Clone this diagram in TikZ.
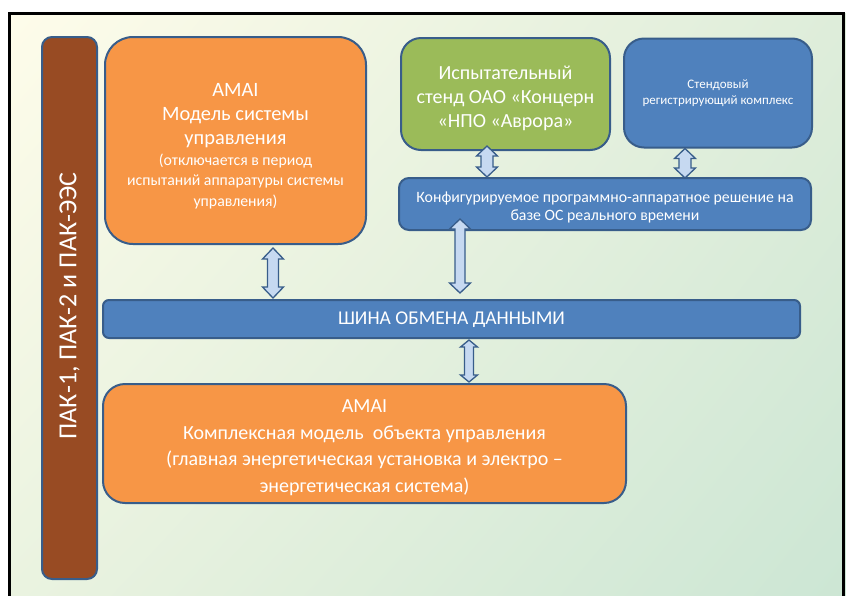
\documentclass[tikz,border=0pt]{standalone}
\usepackage{fontspec}
\setmainfont{Carlito}
\usetikzlibrary{calc,shadings}

\definecolor{bgTL}{RGB}{254,252,234}
\definecolor{bgTR}{RGB}{222,237,218}
\definecolor{bgBL}{RGB}{234,243,224}
\definecolor{bgBR}{RGB}{204,230,212}
\definecolor{edge}{RGB}{56,93,138}
\definecolor{orng}{RGB}{247,150,70}
\definecolor{olive}{RGB}{155,187,89}
\definecolor{steel}{RGB}{79,129,189}
\definecolor{rust}{RGB}{152,75,35}
\definecolor{pale}{RGB}{198,217,241}

\newcommand\fs[2]{\fontsize{#1}{#2}\selectfont}
% vertical two-headed block arrow between two points
% #1 upper end, #2 lower end, #3 shaft half width, #4 head half width, #5 head length
\newcommand\twoway[5]{%
  \draw[flowarrow] let \p1=(#1), \p2=(#2) in
    (\x1,\y1) -- (\x1+#4pt,\y1-#5pt) -- (\x1+#3pt,\y1-#5pt)
    -- (\x2+#3pt,\y2+#5pt) -- (\x2+#4pt,\y2+#5pt) -- (\x2,\y2)
    -- (\x2-#4pt,\y2+#5pt) -- (\x2-#3pt,\y2+#5pt)
    -- (\x1-#3pt,\y1-#5pt) -- (\x1-#4pt,\y1-#5pt) -- cycle;}

\begin{document}
\begin{tikzpicture}[x=1pt,y=-1pt,
  box/.style={draw=edge, line width=2pt, inner sep=0pt, minimum width=#1},
  box/.default=10pt,
  label/.style={text=white, align=center, inner sep=0pt},
  flowarrow/.style={draw=edge, fill=pale, line width=1.3pt, line join=miter}]

\useasboundingbox (0,0) rectangle (846,595);

% background panel and frame
\shade[upper left=bgTL, upper right=bgTR, lower left=bgBL, lower right=bgBR]
  (9,13) rectangle (846,600);
\draw[line width=3pt] (9,620) -- (9,13) -- (843,13) -- (843,620);

% left column
\node[box=55pt, fill=rust, minimum height=542pt, rounded corners=10pt]
  (side) at (69.5,308) {};
\node[label, rotate=90, font=\fs{26}{30}] (sidetext) at ($(side.center)+(0,-2)$)
  {ПАК-1, ПАК-2 и ПАК-ЭЭС};

% control-system model
\node[box=261pt, fill=orng, minimum height=207pt, rounded corners=28pt]
  (m1) at (235.5,140.5) {};
\node[label, font=\fs{20.4}{24}] (m1title) at (235.5,115.5)
  {AMAI\\Модель системы\\управления};
\node[label, font=\fs{15.8}{20.5}] (m1note) at (235.5,181)
  {(отключается в период\\испытаний аппаратуры системы\\управления)};

% test stand
\node[box=209pt, fill=olive, minimum height=112pt, rounded corners=20pt]
  (stand) at (505.5,94) {};
\node[label, font=\fs{20}{24}] (standtext) at ($(stand.center)+(0,4)$)
  {Испытательный\\стенд ОАО «Концерн\\«НПО «Аврора»};

% recording complex
\node[box=188pt, fill=steel, minimum height=109pt, rounded corners=20pt]
  (rec) at (718,93) {};
\node[label, font=\fs{13}{16}] (rectext) at (rec.center)
  {Стендовый\\регистрирующий комплекс};

% real-time solution
\node[box=412pt, fill=steel, minimum height=52pt, rounded corners=10pt]
  (cfg) at (605,204) {};
\node[label, font=\fs{15.8}{18}] (cfgtext) at ($(cfg.center)+(0,3)$)
  {Конфигурируемое программно-аппаратное решение на\\базе ОС реального времени};

% data bus
\node[box=697pt, fill=steel, minimum height=38pt, rounded corners=6pt]
  (bus) at (451.5,319) {};
\node[label, font=\fs{19.5}{22}] (bustext) at ($(bus.center)+(0,1)$)
  {ШИНА ОБМЕНА ДАННЫМИ};

% plant model
\node[box=523pt, fill=orng, minimum height=119pt, rounded corners=22pt]
  (m2) at (364.5,443.5) {};
\node[label, font=\fs{20}{26.5}] (m2text) at ($(m2.center)+(0,4)$)
  {AMAI\\Комплексная модель\ \ объекта управления\\(главная энергетическая установка и электро –\\энергетическая система)};

% arrow columns
\coordinate (c1) at (273,0);
\coordinate (c2) at (460,0);
\coordinate (c3) at (487,0);
\coordinate (c4) at (685,0);
\coordinate (c5) at (469,0);

\twoway{$(m1.south -| c1)+(0,3)$}{$(bus.north -| c1)+(0,-1)$}{5.5}{10.5}{11}
\twoway{$(cfg.south -| c2)+(0,-12)$}{$(bus.north -| c2)+(0,-6)$}{5}{10.5}{10}
\twoway{$(stand.south -| c3)+(0,-5)$}{$(cfg.north -| c3)$}{6}{10.5}{10}
\twoway{$(rec.south -| c4)$}{$(cfg.north -| c4)+(0,1)$}{6}{10.5}{10}
\twoway{$(bus.south -| c5)+(0,1)$}{$(m2.north -| c5)+(0,-1)$}{4.5}{8.5}{7}

\end{tikzpicture}
\end{document}
